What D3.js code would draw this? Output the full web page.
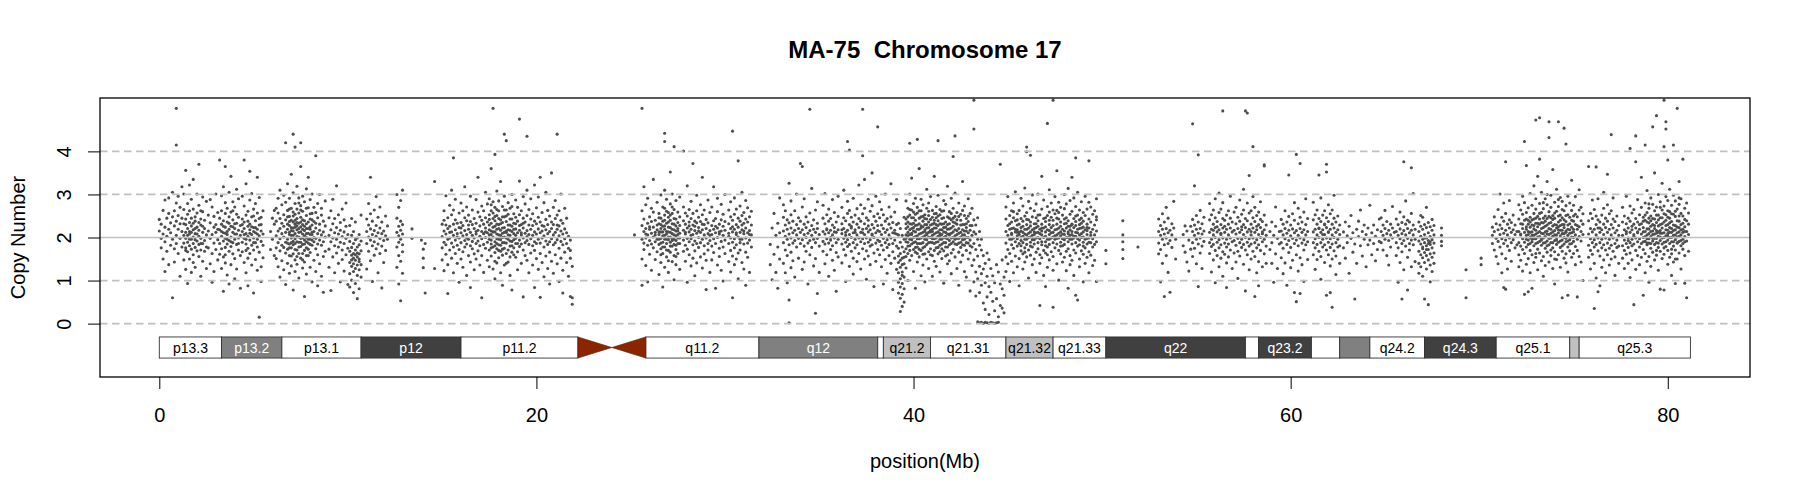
<!DOCTYPE html>
<html>
<head>
<meta charset="utf-8">
<script src="https://cdn.jsdelivr.net/npm/d3@7"></script>
<style>
  body { margin: 0; background: #fff; }
  text { font-family: "Liberation Sans", Arial, Helvetica, sans-serif; }
</style>
</head>
<body>
<div id="chart"></div>
<script>
// Chromosome 17 cytobands (Mb)
var bandNames = ["p13.3","p13.2","p13.1","p12","p11.2","p11.1","q11.1","q11.2","q12","q21.1","q21.2","q21.31","q21.32","q21.33","q22","q23.1","q23.2","q23.3","q24.1","q24.2","q24.3","q25.1","q25.2","q25.3"];
var bandStart = [0,3.3,6.5,10.7,16.0,22.2,24.0,25.8,31.8,38.1,38.4,40.9,44.9,47.4,50.2,57.6,58.3,61.1,62.6,64.2,67.1,70.9,74.8,75.3];
var bandEnd   = [3.3,6.5,10.7,16.0,22.2,24.0,25.8,31.8,38.1,38.4,40.9,44.9,47.4,50.2,57.6,58.3,61.1,62.6,64.2,67.1,70.9,74.8,75.3,81.2];
var bandStain = ["gneg","gpos50","gneg","gpos75","gneg","acen","acen","gneg","gpos50","gneg","gpos25","gneg","gpos25","gneg","gpos75","gneg","gpos75","gneg","gpos50","gneg","gpos75","gneg","gpos25","gneg"];

var xTicks = [0, 20, 40, 60, 80];
var yTicks = [0, 1, 2, 3, 4];
var dashedLevels = [0, 1, 3, 4];
var solidLevels = [2];

// probes: [position in 0.1 Mb, copy number x 100]
var p13 = [
[0,215],[0,242],[1,198],[1,231],[1,176],[2,263],[2,208],[2,150],[3,224],[3,287],[3,190],[3,121],[4,245],[4,203],[4,168],[5,256],[5,219],[5,292],[5,137],[6,234],[6,182],[6,211],[7,60],[7,248],[7,196],[7,305],[8,227],[8,174],[8,262],[8,143],[9,500],[9,415],[9,238],[9,205],[9,280],[9,186],[10,251],[10,219],[10,163],[10,296],[11,232],[11,198],[11,270],[11,110],[12,214],[12,245],[12,178],[12,318],
[13,205],[13,187],[13,232],[13,265],[13,148],[13,301],[14,212],[14,176],[14,243],[14,198],[14,126],[14,356],[15,221],[15,189],[15,254],[15,167],[15,279],[15,93],[16,208],[16,235],[16,181],[16,214],[16,150],[16,322],[16,262],[17,196],[17,227],[17,173],[17,245],[17,119],[17,289],[18,218],[18,201],[18,186],[18,266],[18,142],[18,335],[19,209],[19,238],[19,177],[19,195],[19,248],[19,131],[20,224],[20,192],[20,169],[20,257],[20,301],[21,203],[21,217],[21,184],[21,156],[21,275],[21,370],[22,229],[22,198],[22,171],[22,243],[22,110],[23,212],[23,186],[23,260],[23,145],[23,294],[24,221],[24,193],[24,168],[24,240],[25,206],[25,178],[25,284],[25,128],
[26,215],[26,176],[26,252],[27,198],[27,288],[27,139],[27,234],[28,207],[28,163],[28,271],[28,96],[29,224],[29,187],[29,249],[29,121],[30,212],[30,172],[30,301],[30,230],[31,195],[31,258],[31,148],[31,219],
[32,218],[32,186],[32,245],[32,161],[32,380],[33,203],[33,231],[33,174],[33,262],[33,128],[33,297],[34,211],[34,192],[34,239],[34,155],[34,318],[34,75],[35,224],[35,198],[35,177],[35,256],[35,141],[35,281],[35,365],[36,207],[36,236],[36,185],[36,214],[36,113],[36,268],[37,219],[37,193],[37,248],[37,168],[37,305],[37,92],[38,226],[38,201],[38,179],[38,259],[38,137],[38,342],[39,212],[39,188],[39,241],[39,162],[39,283],[40,221],[40,196],[40,232],[40,151],[40,271],[40,104],[41,208],[41,184],[41,254],[41,127],[41,312],[42,217],[42,199],[42,171],[42,247],[42,290],[43,205],[43,228],[43,158],[43,82],
[44,214],[44,189],[44,243],[44,167],[44,296],[45,221],[45,198],[45,236],[45,142],[45,273],[45,380],[46,209],[46,185],[46,252],[46,118],[46,325],[47,226],[47,203],[47,175],[47,261],[47,152],[47,88],[48,218],[48,194],[48,231],[48,163],[48,287],[48,354],[49,207],[49,182],[49,248],[49,136],[49,302],[50,223],[50,199],[50,214],[50,171],[50,266],[50,71],[51,211],[51,188],[51,239],[51,149],[51,279],[52,219],[52,196],[52,178],[52,257],[52,124],[52,340],[53,204],[53,229],[53,15],[53,166],[53,293],[54,215],[54,191],[54,247],[54,132],[54,98],[55,208],[55,182],[55,262],[55,153],
[59,214],[59,172],[60,245],[60,196],[61,158],[61,231],[61,263],
[62,204],[62,176],[62,238],[62,151],[62,268],[63,215],[63,188],[63,257],[63,132],[63,291],[64,221],[64,197],[64,169],[64,244],[64,310],[64,108],[65,209],[65,233],[65,182],[65,146],[65,276],[66,226],[66,201],[66,177],[66,253],[66,125],[66,298],[67,212],[67,189],[67,241],[67,420],[67,164],[67,282],[67,91],[68,219],[68,196],[68,231],[68,173],[68,263],[68,140],[68,325],[69,207],[69,228],[69,185],[69,249],[69,158],[69,291],[69,117],[69,212],
[70,223],[70,199],[70,240],[70,176],[70,268],[70,134],[70,347],[70,205],[71,215],[71,191],[71,236],[71,440],[71,162],[71,259],[71,304],[71,78],[71,222],[72,209],[72,231],[72,186],[72,254],[72,410],[72,148],[72,279],[72,197],[72,121],[73,218],[73,202],[73,244],[73,171],[73,266],[73,138],[73,319],[73,227],[74,212],[74,189],[74,233],[74,163],[74,257],[74,106],[74,292],[74,201],[75,225],[75,198],[75,420],[75,247],[75,179],[75,152],[75,274],[75,365],[75,213],
[76,208],[76,230],[76,184],[76,261],[76,129],[76,296],[76,219],[77,216],[77,194],[77,239],[77,170],[77,283],[77,143],[77,63],[77,204],[78,221],[78,200],[78,251],[78,176],[78,313],[78,115],[78,232],[79,210],[79,187],[79,236],[79,158],[79,269],[79,340],[79,196],[80,219],[80,196],[80,243],[80,165],[80,288],[80,131],[80,225],[81,207],[81,229],[81,182],[81,256],[81,97],[81,301],[81,212],
[82,214],[82,190],[82,237],[82,147],[82,270],[82,200],[83,222],[83,198],[83,390],[83,174],[83,258],[83,121],[83,233],[84,209],[84,185],[84,246],[84,160],[84,279],[84,88],[85,217],[85,194],[85,231],[85,139],[85,300],[86,206],[86,182],[86,252],[86,110],[86,268],[87,213],[87,190],[87,238],[87,156],[87,73],[88,201],[88,227],[88,168],[88,285],
[90,205],[90,173],[90,246],[90,131],[91,218],[91,190],[91,262],[91,77],[92,199],[92,232],[92,155],[92,289],[93,211],[93,181],[93,244],[93,118],[94,196],[94,223],[94,164],[94,320],[95,208],[95,178],[95,253],[95,140],[96,217],[96,189],[96,235],[96,97],[97,202],[97,171],[97,266],[97,149],[98,213],[98,186],[98,241],[98,122],[99,198],[99,226],[99,160],[99,280],[100,207],[100,175],[100,91],
[101,168],[101,142],[101,191],[101,116],[101,228],[101,85],[102,159],[102,177],[102,133],[102,205],[102,148],[102,101],[102,244],[103,163],[103,186],[103,139],[103,152],[103,121],[103,214],[103,72],[104,171],[104,147],[104,195],[104,128],[104,160],[104,93],[104,236],[105,155],[105,178],[105,136],[105,199],[105,112],[105,164],[105,58],[106,162],[106,144],[106,183],[106,125],[106,207],[106,81],[106,150],[107,169],[107,137],[107,192],[107,108],[107,252],
[68,187],[68,248],[69,176],[69,237],[70,188],[70,216],[71,205],[71,183],[72,224],[72,172],[73,190],[73,235],[74,221],[74,178],[75,189],[75,236],[76,199],[76,241],[76,163],[77,226],[77,185],[78,209],[78,190],[78,268],[79,221],[79,173],[80,207],[80,255],[81,194],[81,241],[69,266],[70,157],[72,240],[74,280],[76,148],[78,158],[80,184],[71,250],[73,156],[75,264],
[14,230],[15,205],[16,196],[17,212],[18,233],[19,221],[20,208],[21,235],[22,186],[23,226],[33,214],[34,226],[35,210],[36,196],[37,233],[38,190],[39,225],[40,208],[41,233],[42,186],[44,230],[45,207],[46,196],[47,238],[48,210],[49,225],[50,188],[51,223],[52,208],[53,244],[14,170],[18,160],[22,262],[35,160],[39,262],[46,170],[50,250],[54,230]
];

var p12 = [
[110,214],[110,186],[110,243],[110,127],[111,201],[111,229],[111,168],[111,279],[112,220],[112,194],[112,255],[112,146],[112,340],[113,207],[113,181],[113,238],[113,98],[114,216],[114,190],[114,264],[114,159],[115,203],[115,228],[115,174],[115,295],[116,211],[116,185],[116,247],[116,118],[117,198],[117,222],[117,163],[117,271],[118,209],[118,180],[118,236],[118,83],[119,215],[119,193],[119,142],[120,204],[120,250],[120,170],[121,196],[121,227],
[126,212],[126,178],[126,245],[126,131],[126,300],[127,204],[127,189],[127,226],[127,158],[127,92],[127,270],[128,217],[128,196],[128,238],[128,145],[128,53],[128,286],[129,208],[129,183],[129,230],[129,117],[129,310],[129,167],
[134,220],[134,198],[139,194],[140,173],[140,152],[140,130],[141,186],[141,71],[146,330],[146,128]
];

var p11 = [
[150,202],[150,231],[150,176],[150,148],[151,215],[151,189],[151,262],[151,123],[151,240],[152,208],[152,183],[152,229],[152,297],[152,161],[153,221],[153,196],[153,246],[153,137],[153,70],[154,199],[154,226],[154,171],[154,275],[154,212],[155,213],[155,187],[155,253],[155,152],[155,310],[156,205],[156,231],[156,385],[156,178],[156,118],[156,264],[157,218],[157,194],[157,241],[157,163],[157,289],[158,209],[158,182],[158,233],[158,140],[158,201],[159,223],[159,199],[159,257],[159,172],[159,96],
[160,211],[160,188],[160,235],[160,150],[160,280],[160,222],[161,204],[161,228],[161,167],[161,262],[161,131],[162,216],[162,193],[162,246],[162,178],[162,318],[163,207],[163,185],[163,239],[163,112],[163,271],[163,199],[164,219],[164,196],[164,252],[164,158],[164,229],[165,212],[165,181],[165,237],[165,143],[165,296],[165,84],[166,205],[166,230],[166,174],[166,264],[166,191],[167,221],[167,199],[167,244],[167,162],[167,125],[168,208],[168,186],[168,233],[168,288],[168,214],[168,150],[169,217],[169,192],[169,259],[169,169],[169,340],
[170,203],[170,227],[170,181],[170,136],[170,248],[171,214],[171,197],[171,240],[171,158],[171,273],[171,60],[172,209],[172,184],[172,231],[172,119],[172,262],[173,222],[173,200],[173,246],[173,175],[173,305],[173,213],[174,211],[174,189],[174,236],[174,147],[174,278],[175,218],[175,196],[175,253],[175,171],[175,132],[175,229],[175,290],[176,207],[176,233],[176,185],[176,262],[176,157],[176,360],[176,215],[177,224],[177,201],[177,500],[177,178],[177,244],[177,127],[177,283],[178,213],[178,190],[178,239],[178,165],[178,393],[178,270],[178,104],[178,226],[179,219],[179,197],[179,251],[179,174],[179,308],[179,141],[179,208],
[180,206],[180,230],[180,183],[180,262],[180,153],[180,285],[180,221],[181,217],[181,195],[181,241],[181,168],[181,118],[181,330],[181,232],[182,210],[182,188],[182,235],[182,159],[182,272],[182,200],[182,89],[183,223],[183,201],[183,248],[183,440],[183,175],[183,296],[183,136],[184,212],[184,187],[184,237],[184,163],[184,264],[184,425],[184,215],[185,218],[185,196],[185,254],[185,143],[185,281],[185,229],[186,205],[186,229],[186,180],[186,268],[186,112],[186,192],[187,214],[187,191],[187,243],[187,166],[187,300],[187,78],[188,209],[188,233],[188,176],[188,255],[189,220],[189,198],[189,247],[189,154],[189,287],[189,205],
[190,211],[190,186],[190,238],[190,167],[190,270],[190,125],[191,217],[191,194],[191,253],[191,475],[191,179],[191,331],[191,228],[192,206],[192,230],[192,185],[192,262],[192,140],[192,211],[193,222],[193,199],[193,245],[193,171],[193,295],[193,62],[193,233],[194,210],[194,188],[194,236],[194,158],[194,278],[195,216],[195,435],[195,193],[195,251],[195,147],[195,202],[195,310],[196,207],[196,184],[196,229],[196,118],[196,265],[197,219],[197,197],[197,243],[197,164],[197,290],[198,205],[198,228],[198,181],[198,136],[198,255],[199,213],[199,190],[199,238],[199,170],[199,84],[199,322],
[200,208],[200,232],[200,186],[200,151],[200,269],[201,220],[201,196],[201,247],[201,126],[201,294],[202,211],[202,187],[202,236],[202,163],[202,61],[202,340],[203,215],[203,199],[203,258],[203,142],[203,228],[204,204],[204,226],[204,178],[204,281],[204,109],[205,218],[205,192],[205,242],[205,157],[205,305],[206,209],[206,230],[206,184],[206,128],[206,263],[207,214],[207,190],[207,250],[207,166],[207,92],[208,221],[208,197],[208,236],[208,145],[208,350],[209,206],[209,230],[209,183],[209,270],[209,117],
[210,212],[210,188],[210,244],[210,160],[210,286],[211,219],[211,440],[211,195],[211,229],[211,139],[211,252],[212,204],[212,227],[212,175],[212,98],[212,262],[213,215],[213,191],[213,240],[213,152],[213,301],[214,208],[214,183],[214,233],[214,124],[214,71],[215,220],[215,197],[215,166],[215,268],[216,211],[216,186],[216,142],[216,245],[217,203],[217,175],[217,110],[218,194],[218,63],[218,152],[218,170],[219,60],[219,45],[219,133],
[175,206],[175,242],[176,194],[176,176],[177,213],[177,257],[178,181],[178,249],[179,186],[179,231],[180,196],[180,244],[181,205],[181,182],[182,222],[182,248],[183,188],[183,212],[184,199],[184,250],[185,206],[185,171],[186,217],[186,243],[187,181],[187,226],[188,195],[188,219],[189,186],[189,232],[178,145],[180,170],[182,173],[184,140],[186,155],[188,160],[176,276],[179,265],[183,264],[187,272]
];

var q11q12 = [
[252,206],
[256,500],[256,228],[256,196],[256,262],[256,150],[256,89],[257,214],[257,187],[257,243],[257,172],[257,318],[258,221],[258,199],[258,276],[258,135],[258,208],[259,206],[259,233],[259,182],[259,97],[259,291],[260,219],[260,193],[260,248],[260,161],[260,225],[261,210],[261,185],[261,237],[261,124],[261,268],[262,224],[262,201],[262,259],[262,176],[262,335],[263,212],[263,190],[263,240],[263,149],[263,206],[264,218],[264,196],[264,229],[264,167],[264,282],
[265,207],[265,232],[265,184],[265,114],[265,256],[265,213],[266,221],[266,198],[266,245],[266,174],[266,299],[266,142],[266,230],[267,213],[267,189],[267,238],[267,163],[267,271],[267,204],[267,85],[268,442],[268,423],[268,219],[268,196],[268,252],[268,178],[268,310],[268,131],[268,227],[269,208],[269,233],[269,186],[269,261],[269,155],[269,214],[269,289],[270,224],[270,201],[270,247],[270,170],[270,119],[270,236],[270,195],[271,212],[271,189],[271,240],[271,166],[271,278],[271,223],[271,352],[272,219],[272,197],[272,256],[272,144],[272,209],[272,301],[272,180],[273,411],[273,206],[273,231],[273,184],[273,265],[273,158],[273,218],[273,102],[274,215],[274,193],[274,243],[274,172],[274,286],[274,227],[274,137],[275,221],[275,199],[275,235],[275,163],[275,259],[275,207],[276,210],[276,186],[276,248],[276,126],[276,294],
[278,401],[278,217],[278,194],[278,239],[278,168],[278,271],[279,208],[279,231],[279,182],[279,145],[279,257],[279,212],[280,222],[280,198],[280,250],[280,173],[280,96],[280,320],[281,213],[281,190],[281,236],[281,160],[281,265],[281,227],[282,219],[282,197],[282,244],[282,134],[282,284],[282,205],[283,207],[283,229],[283,183],[283,256],[283,152],[283,372],[284,216],[284,192],[284,238],[284,169],[284,111],[284,226],[285,210],[285,234],[285,186],[285,262],[285,141],[285,298],[286,223],[286,200],[286,247],[286,177],[286,215],[287,212],[287,188],[287,237],[287,155],[287,276],[288,218],[288,196],[288,253],[288,129],[288,340],[288,231],[289,206],[289,230],[289,181],[289,264],[289,162],
[290,221],[290,199],[290,242],[290,147],[290,79],[291,209],[291,186],[291,234],[291,171],[291,287],[292,216],[292,193],[292,258],[292,119],[292,205],[293,207],[293,228],[293,180],[293,271],[293,148],[294,219],[294,197],[294,239],[294,165],[294,318],[295,211],[295,186],[295,244],[295,82],[295,226],[296,222],[296,200],[296,260],[296,136],[296,291],[297,208],[297,231],[297,175],[297,213],[297,156],[298,215],[298,191],[298,241],[298,124],[298,277],[299,205],[299,226],[299,178],[299,254],[299,99],[300,217],[300,194],[300,237],[300,163],[300,300],
[302,210],[302,232],[302,186],[302,264],[302,144],[302,203],[303,221],[303,199],[303,248],[303,170],[303,283],[303,120],[304,447],[304,213],[304,189],[304,240],[304,157],[304,225],[304,60],[305,219],[305,197],[305,254],[305,176],[305,292],[305,137],[306,207],[306,230],[306,183],[306,266],[306,211],[306,150],[307,224],[307,201],[307,245],[307,164],[307,378],[307,104],[308,212],[308,188],[308,238],[308,171],[308,273],[308,196],[309,218],[309,196],[309,251],[309,142],[309,229],[309,305],[310,209],[310,233],[310,185],[310,258],[310,127],[310,215],[311,222],[311,199],[311,243],[311,166],[311,286],[311,89],[312,211],[312,187],[312,236],[312,154],[312,269],[313,216],[313,194],[313,248],[313,119],[313,207],[314,206],[314,229],[314,178],[314,261],
[324,184],[324,137],[325,222],[325,102],[326,256],[326,161],[327,205],[327,119],[328,233],[328,178],[328,82],[329,211],[329,292],[329,150],
[331,215],[331,188],[331,247],[331,140],[331,276],[332,203],[332,229],[332,171],[332,118],[332,262],[333,219],[333,196],[333,241],[333,158],[333,95],[334,208],[334,326],[334,183],[334,234],[334,2],[334,55],[335,222],[335,199],[335,253],[335,166],[335,285],[335,130],[336,211],[336,187],[336,238],[336,146],
[337,217],[337,193],[337,262],[337,108],[338,206],[338,230],[338,178],[338,301],[339,221],[339,198],[339,246],[339,152],[340,212],[340,372],[340,186],[340,238],[341,218],[341,195],[341,365],[341,271],[341,126],[342,207],[342,231],[342,180],[342,290],[342,143],[343,223],[343,200],[343,248],[343,168],[344,210],[344,187],[344,236],[344,92],[345,498],[345,216],[345,193],[345,257],[345,160],[346,205],[346,228],[346,177],[346,314],[347,219],[347,196],[347,241],[347,134],
[348,212],[348,188],[348,264],[348,24],[348,151],[349,221],[349,198],[349,233],[349,70],[349,283],[350,207],[350,180],[350,119],
[352,214],[352,191],[352,245],[352,168],[352,275],[353,208],[353,232],[353,185],[353,139],[353,302],[354,220],[354,197],[354,253],[354,160],[354,218],[355,211],[355,187],[355,238],[355,110],[355,266],[356,217],[356,194],[356,244],[356,172],[356,200],[357,206],[357,229],[357,181],[357,288],[357,147],[358,223],[358,199],[358,258],[358,124],[358,213],[359,212],[359,188],[359,236],[359,165],[359,75],[360,218],[360,196],[360,249],[360,155],[360,296],
[362,209],[362,232],[362,185],[362,270],[362,141],[362,218],[363,221],[363,198],[363,246],[363,172],[363,310],[364,212],[364,189],[364,239],[364,159],[364,98],[364,205],[365,423],[365,217],[365,195],[365,256],[365,179],[365,284],[366,207],[366,230],[366,184],[366,403],[366,133],[366,263],[367,222],[367,200],[367,247],[367,168],[367,226],[368,211],[368,188],[368,236],[368,152],[368,291],[368,115],[369,218],[369,196],[369,252],[369,176],[369,212],[370,206],[370,231],[370,183],[370,267],[370,144],[371,223],[371,199],[371,244],[371,163],[371,322],[372,212],[372,190],[372,238],[372,127],[372,276],
[373,498],[373,390],[373,219],[373,197],[373,255],[373,174],[373,211],[374,207],[374,232],[374,186],[374,268],[374,150],[374,335],[375,221],[375,199],[375,246],[375,169],[375,103],[376,213],[376,189],[376,240],[376,157],[376,289],[376,227],[377,218],[377,195],[377,261],[377,180],[377,137],[378,208],[378,230],[378,183],[378,274],[378,206],[378,350],[379,222],[379,200],[379,249],[379,164],[379,86],[380,211],[380,187],[380,238],[380,145],[380,296],[381,457],[381,216],[381,194],[381,255],[381,172],[381,228],
[265,196],[265,246],[266,187],[266,213],[267,226],[267,178],[268,205],[268,240],[269,196],[269,171],[270,213],[270,258],[271,201],[271,180],[272,232],[272,193],[273,244],[273,196],[274,204],[274,182],[275,215],[275,186],[276,228],[276,199],[268,268],[270,146],[272,271],[274,156],[266,160],[271,252]
];

var q21 = [
[382,214],[382,191],[382,246],[382,160],[382,283],[383,207],[383,229],[383,182],[383,132],[383,265],[384,221],[384,198],[384,253],[384,171],[384,92],[385,212],[385,188],[385,238],[385,149],[385,301],[386,218],[386,195],[386,244],[386,177],[386,117],[387,206],[387,231],[387,184],[387,271],[387,158],[388,222],[388,199],[388,248],[388,140],[388,325],[389,211],[389,186],[389,235],[389,167],[389,79],
[390,217],[390,194],[390,259],[390,152],[390,210],[391,208],[391,230],[391,180],[391,288],[391,126],
[392,175],[392,142],[392,118],[392,96],[392,206],[392,71],[392,233],[392,157],[393,163],[393,131],[393,104],[393,85],[393,59],[393,189],[393,147],[393,28],[393,221],[394,152],[394,120],[394,93],[394,68],[394,40],[394,178],[394,137],[394,112],[394,205],[395,167],[395,139],[395,108],[395,81],[395,196],[395,154],[395,247],[395,50],
[396,221],[396,198],[396,243],[396,174],[396,285],[396,129],[396,206],[397,212],[397,189],[397,236],[397,163],[397,268],[397,225],[397,100],[398,419],[398,218],[398,196],[398,252],[398,181],[398,301],[398,147],[398,232],[399,207],[399,231],[399,185],[399,264],[399,158],[399,210],[399,338],[400,223],[400,200],[400,246],[400,172],[400,279],[400,121],[400,215],[401,213],[401,190],[401,240],[401,166],[401,291],[401,228],[401,82],[402,428],[402,219],[402,197],[402,257],[402,178],[402,204],[402,143],[402,270],[403,208],[403,232],[403,186],[403,262],[403,155],[403,219],[403,360],[404,222],[404,199],[404,248],[404,170],[404,227],[404,111],[404,289],[405,212],[405,188],[405,238],[405,161],[405,276],[405,201],[405,136],
[406,218],[406,196],[406,244],[406,179],[406,253],[406,214],[406,97],[407,207],[407,230],[407,184],[407,268],[407,150],[407,209],[407,312],[408,223],[408,201],[408,251],[408,167],[408,236],[408,128],[408,280],[409,213],[409,189],[409,242],[409,174],[409,217],[409,295],[410,219],[410,197],[410,231],[410,158],[410,263],[410,205],[410,110],[411,208],[411,233],[411,186],[411,255],[411,145],[411,222],[411,342],[412,222],[412,199],[412,246],[412,176],[412,272],[412,211],[412,133],[413,425],[413,213],[413,190],[413,239],[413,162],[413,228],[413,298],[414,218],[414,196],[414,253],[414,182],[414,204],[414,120],[414,265],[415,207],[415,231],[415,185],[415,244],[415,151],[415,218],
[416,223],[416,200],[416,262],[416,169],[416,286],[416,94],[416,213],[417,212],[417,188],[417,236],[417,157],[417,277],[417,224],[418,219],[418,197],[418,248],[418,178],[418,319],[418,139],[419,208],[419,232],[419,183],[419,260],[419,146],[419,206],[420,222],[420,199],[420,241],[420,164],[420,291],[420,116],
[421,388],[421,213],[421,190],[421,245],[421,172],[421,268],[421,226],[422,436],[422,218],[422,196],[422,234],[422,155],[422,303],[422,204],[423,207],[423,231],[423,184],[423,258],[423,128],[423,216],[424,221],[424,198],[424,249],[424,166],[424,280],[424,89],[425,212],[425,189],[425,240],[425,177],[425,229],[425,143],[426,218],[426,195],[426,263],[426,159],[426,206],[426,330],[427,206],[427,230],[427,182],[427,251],[427,121],[427,273],[428,223],[428,200],[428,244],[428,170],[428,215],[428,108],[429,211],[429,187],[429,237],[429,150],[429,290],[430,217],[430,194],[430,256],[430,164],[430,76],
[431,205],[431,228],[431,178],[431,135],[431,268],[432,519],[432,452],[432,213],[432,186],[432,241],[432,148],[432,97],[433,208],[433,172],[433,229],[433,120],[433,64],[434,196],[434,157],[434,246],[434,104],[434,4],[435,182],[435,133],[435,214],[435,72],[435,2],[436,171],[436,116],[436,89],[436,196],[436,3],[437,158],[437,127],[437,48],[437,1],[438,140],[438,95],[438,33],[438,3],[439,164],[439,110],[439,62],[439,2],[440,149],[440,86],[440,21],[440,1],[441,128],[441,73],[441,3],[442,111],[442,52],[442,2],[443,95],[443,30],[443,1],[444,137],[444,58],[444,2],[445,120],[445,16],[445,3],[446,92],[446,42],[446,370],[447,81],[447,36],[447,148],[448,66],[448,25],[448,108],
[449,214],[449,187],[449,243],[449,155],[449,121],[449,271],[450,205],[450,228],[450,172],[450,139],[450,295],[451,219],[451,196],[451,251],[451,163],[451,98],[451,232],[452,210],[452,236],[452,183],[452,262],[452,145],[452,207],[453,222],[453,199],[453,246],[453,175],[453,280],[453,118],[454,213],[454,190],[454,239],[454,157],[454,219],[454,306],[455,218],[455,197],[455,255],[455,180],[455,204],[455,132],[455,229],[456,207],[456,231],[456,186],[456,263],[456,151],[456,212],[456,88],[457,223],[457,201],[457,244],[457,169],[457,291],[457,215],[457,193],[458,212],[458,188],[458,238],[458,162],[458,273],[458,226],[458,127],[459,219],[459,196],[459,250],[459,176],[459,208],[459,315],[459,143],
[460,410],[460,206],[460,230],[460,184],[460,258],[460,219],[460,155],[460,399],[461,222],[461,200],[461,241],[461,171],[461,284],[461,210],[461,106],[462,391],[462,213],[462,189],[462,236],[462,159],[462,227],[462,268],[463,218],[463,195],[463,248],[463,178],[463,205],[463,137],[463,299],[464,207],[464,232],[464,185],[464,262],[464,150],[464,221],[465,223],[465,199],[465,246],[465,166],[465,278],[465,211],[465,119],[466,212],[466,188],[466,239],[466,174],[466,301],[466,226],[467,219],[467,197],[467,253],[467,42],[467,160],[467,209],[467,140],[468,206],[468,231],[468,183],[468,266],[468,153],[468,215],[468,342],[469,222],[469,200],[469,244],[469,170],[469,287],[469,112],
[470,213],[470,190],[470,237],[470,164],[470,225],[470,203],[470,86],[471,465],[471,218],[471,196],[471,251],[471,178],[471,272],[471,131],[472,207],[472,230],[472,184],[472,259],[472,148],[472,216],[472,311],[473,223],[473,199],[473,247],[473,167],[473,211],[473,280],[474,519],[474,212],[474,188],[474,240],[474,156],[474,228],[474,38],[474,124],[475,218],[475,196],[475,255],[475,176],[475,204],[475,295],[476,206],[476,231],[476,185],[476,263],[476,139],[476,219],[476,355],[477,222],[477,199],[477,243],[477,170],[477,282],[477,210],[477,101],[478,213],[478,189],[478,236],[478,162],[478,226],[478,270],[479,219],[479,197],[479,252],[479,181],[479,143],[479,208],
[480,207],[480,232],[480,184],[480,267],[480,154],[480,215],[480,300],[481,222],[481,200],[481,246],[481,168],[481,278],[481,123],[481,233],[482,213],[482,190],[482,239],[482,174],[482,209],[482,314],[482,82],[483,218],[483,196],[483,254],[483,158],[483,226],[483,286],[483,137],[484,207],[484,231],[484,185],[484,261],[484,147],[484,214],[484,340],[485,223],[485,199],[485,244],[485,171],[485,292],[485,203],[485,112],[486,385],[486,212],[486,188],[486,237],[486,164],[486,272],[486,228],[486,66],[487,219],[487,197],[487,252],[487,180],[487,211],[487,55],[487,305],[488,206],[488,230],[488,183],[488,264],[488,150],[488,221],[488,132],[489,222],[489,200],[489,245],[489,169],[489,283],[489,209],
[490,213],[490,189],[490,238],[490,161],[490,258],[490,224],[490,97],[491,218],[491,196],[491,251],[491,176],[491,296],[491,140],[492,207],[492,231],[492,185],[492,266],[492,154],[492,216],[493,378],[493,222],[493,199],[493,243],[493,167],[493,282],[493,118],[494,212],[494,188],[494,236],[494,159],[494,271],[494,205],[495,219],[495,197],[495,254],[495,178],[495,135],[496,206],[496,229],[496,184],[496,262],[496,147],[497,215],[497,190],[497,241],[497,98],[497,290],[497,248],
[502,170],[502,139],
[396,190],[396,232],[396,156],[397,204],[397,248],[397,180],[398,207],[398,170],[398,265],[399,221],[399,195],[399,246],[400,188],[400,233],[400,259],[401,202],[401,177],[401,254],[402,186],[402,229],[402,163],[403,197],[403,245],[403,173],[404,210],[404,186],[404,262],[405,225],[405,176],[405,249],[406,204],[406,230],[406,162],[407,195],[407,243],[407,222],[408,212],[408,188],[408,261],[409,200],[409,229],[409,160],[410,188],[410,247],[410,214],[411,197],[411,240],[411,170],[412,189],[412,230],[412,256],[413,203],[413,177],[413,250],[414,209],[414,232],[414,167],[415,196],[415,261],[415,174],[416,188],[416,232],[416,246],[417,199],[417,203],[417,178],[418,208],[418,230],[418,160],[419,220],[419,193],[419,245],[420,210],[420,186],[420,256],[421,200],[421,236],[422,185],[422,249],[423,198],[423,241],[424,210],[424,187],[425,201],[425,254],[426,230],[426,183],[427,215],[427,196],[428,232],[428,188],[429,200],[429,250],[430,228],[430,181],
[452,196],[452,221],[455,212],[455,241],[457,181],[458,203],[460,196],[460,242],[462,201],[462,180],[464,213],[464,195],[466,200],[466,252],[468,222],[468,190],[470,246],[470,181],[472,196],[472,240],[474,201],[474,264],[476,198],[476,245],[478,204],[478,180],[480,195],[480,243],[482,226],[482,200],[484,196],[484,230],[486,203],[486,250],[488,194],[488,241],[490,201],[490,180],[492,223],[492,198],[453,260],[459,166],[465,232],[471,160],[477,258],[483,205],[489,233],[493,189]
];

var q22q23 = [
[511,239],[511,206],[511,190],[511,172],[511,151],[519,178],
[530,214],[530,187],[530,243],[530,162],[531,205],[531,228],[531,172],[531,97],[532,219],[532,196],[532,255],[532,140],[533,208],[533,183],[533,236],[533,63],[534,221],[534,199],[534,270],[534,158],[535,211],[535,186],[535,245],[535,119],[536,217],[536,193],[536,73],[537,206],[537,232],[537,177],[538,222],[538,284],[539,196],[539,150],
[543,207],[543,181],[544,166],[544,227],[545,215],[545,143],[546,194],[546,122],[547,226],[547,173],
[548,464],[548,214],[548,188],[548,242],[548,156],[549,205],[549,229],[549,175],[549,320],[550,219],[550,196],[550,251],[550,139],[551,392],[551,210],[551,185],[551,236],[551,86],[552,221],[552,199],[552,263],[552,164],[553,208],[553,232],[553,180],[553,128],[554,215],[554,191],[554,247],
[557,212],[557,188],[557,241],[557,163],[557,279],[558,219],[558,196],[558,253],[558,179],[558,120],[559,206],[559,231],[559,184],[559,264],[559,148],[559,217],[560,223],[560,200],[560,246],[560,170],[560,290],[560,95],[561,213],[561,189],[561,237],[561,158],[561,225],[562,218],[562,195],[562,258],[562,176],[562,132],[562,303],[563,207],[563,230],[563,183],[563,266],[563,152],[563,210],[564,494],[564,222],[564,199],[564,244],[564,167],[564,281],[564,110],[565,212],[565,187],[565,240],[565,161],[565,226],[566,219],[566,196],[566,252],[566,178],[566,141],[566,84],[567,206],[567,231],[567,185],[567,262],[567,155],[568,222],[568,199],[568,245],[568,171],[568,296],[569,213],[569,190],[569,236],[569,128],[570,217],[570,193],[570,259],[570,164],
[571,208],[571,232],[571,182],[571,270],[571,143],[572,221],[572,198],[572,247],[572,168],[572,105],[573,212],[573,188],[573,238],[573,157],[573,287],[574,218],[574,196],[574,254],[574,177],[574,225],[575,207],[575,230],[575,184],[575,264],[575,138],[575,312],[576,494],[576,223],[576,200],[576,244],[576,171],[576,76],[577,489],[577,213],[577,189],[577,239],[577,160],[577,280],[578,219],[578,197],[578,257],[578,180],[578,125],[578,344],[579,206],[579,231],[579,185],[579,262],[579,150],[579,214],[580,411],[580,222],[580,199],[580,246],[580,168],[580,295],[581,212],[581,188],[581,237],[581,63],[581,156],[581,270],[582,218],[582,195],[582,251],[582,176],[582,118],[582,226],[583,207],[583,230],[583,183],[583,259],[583,144],[583,88],[584,223],[584,200],[584,242],[584,170],[584,283],[585,213],[585,190],[585,237],[585,132],[585,209],[586,369],[586,366],[586,218],[586,196],[586,252],[586,162],[587,205],[587,229],[587,180],[587,140],
[589,214],[589,172],[590,236],[590,140],[590,188],[591,205],[591,96],[592,226],[592,162],[592,271],[593,198],[593,128],[594,214],[594,185],
[595,215],[595,188],[595,242],[595,153],[596,206],[596,231],[596,175],[596,116],[597,221],[597,197],[597,262],[597,141],[598,210],[598,184],[598,236],[598,89],[599,345],[599,217],[599,193],[599,249],[599,165],[600,204],[600,229],[600,177],[600,130],[601,220],[601,198],[601,255],[601,147],[602,211],[602,186],[602,240],[602,72],[602,281],[603,393],[603,216],[603,194],[603,51],[603,160],[604,205],[604,232],[604,181],[604,122],[604,268],[605,372],[605,221],[605,199],[605,247],[605,70],[605,153],[606,212],[606,187],[606,236],[606,137],[607,218],[607,195],[607,259],[607,171],[607,98],[608,206],[608,230],[608,183],[608,290],[609,214],[609,190],[609,244],[609,149],
[612,213],[612,188],[612,241],[612,160],[612,282],[613,219],[613,197],[613,253],[613,176],[613,126],[614,206],[614,231],[614,184],[614,264],[614,149],[615,222],[615,200],[615,244],[615,168],[615,345],[615,221],[616,212],[616,188],[616,237],[616,156],[616,292],[616,103],[617,218],[617,196],[617,252],[617,178],[617,207],[618,207],[618,230],[618,183],[618,262],[618,142],[618,231],[619,370],[619,352],[619,223],[619,199],[619,246],[619,171],[619,66],[620,213],[620,189],[620,237],[620,160],[620,276],[620,212],[621,219],[621,197],[621,255],[621,177],[621,134],[621,72],[622,206],[622,231],[622,185],[622,264],[622,38],[622,150],[623,222],[623,200],[623,245],[623,169],[623,298],[624,212],[624,188],[624,236],[624,157],[624,114],[625,218],[625,196],[625,250],[625,178],[626,207],[626,229],[626,181],[626,140]
];

var q24q25 = [
[628,213],[628,176],[629,236],[629,152],[630,204],[630,188],[631,226],[631,117],[632,198],[632,251],[633,211],[633,166],[634,185],[634,57],[635,219],[635,140],[636,202],[636,238],[637,181],[637,264],[638,214],[638,157],[639,196],[639,229],[640,207],[640,132],[641,222],[641,183],[642,194],[642,275],[643,211],[643,160],[644,229],[644,186],[645,203],[645,146],[646,218],[646,172],[647,191],[647,243],
[648,214],[648,188],[648,246],[649,205],[649,171],[649,229],[650,221],[650,196],[650,263],[651,209],[651,158],[651,237],[652,217],[652,193],[652,136],[653,206],[653,231],[653,178],[654,222],[654,199],[654,272],[655,212],
[656,214],[656,188],[656,243],[656,158],[657,205],[657,230],[657,176],[657,96],[658,220],[658,197],[658,259],[658,142],[659,209],[659,186],[659,235],[659,167],[659,57],[660,376],[660,216],[660,193],[660,248],[660,125],[661,206],[661,231],[661,180],[661,285],[662,221],[662,198],[662,240],[662,154],[662,78],[663,211],[663,186],[663,236],[663,171],[664,362],[664,217],[664,194],[664,256],[664,132],[665,206],[665,229],[665,183],[665,302],[666,219],[666,196],[666,144],
[668,192],[668,168],[668,214],[668,140],[668,236],[668,117],[669,185],[669,203],[669,160],[669,226],[669,132],[669,251],[670,178],[670,196],[670,153],[670,219],[670,110],[670,174],[670,247],[671,188],[671,207],[671,165],[671,230],[671,142],[671,57],[671,199],[672,181],[672,199],[672,158],[672,223],[672,127],[672,270],[672,172],[673,193],[673,172],[673,211],[673,148],[673,235],[673,44],[673,186],[674,184],[674,202],[674,162],[674,225],[674,136],[674,190],[674,97],[675,176],[675,195],[675,154],[675,217],[675,121],[675,242],[676,187],[676,206],[676,164],[676,140],[676,228],
[680,222],[680,205],[680,191],[680,181],[693,125],[693,60],[701,152],[701,137],
[707,205],[707,186],[707,224],[708,214],[708,171],[708,248],[709,198],[709,232],[709,156],[710,218],[710,191],[710,265],[710,139],[711,207],[711,229],[711,178],[711,301],[712,221],[712,197],[712,247],[712,162],[712,118],[713,210],[713,186],[713,238],[713,84],[713,280],[714,376],[714,217],[714,194],[714,256],[714,151],[714,80],[715,206],[715,231],[715,180],[715,127],[716,222],[716,199],[716,241],[716,170],[716,286],[717,212],[717,188],[717,235],[717,145],[718,218],[718,195],[718,252],[719,207],[719,229],[719,176],[720,214],[720,183],
[721,214],[721,188],[721,243],[721,160],[721,276],[721,132],[722,206],[722,232],[722,180],[722,264],[722,147],[722,208],[723,221],[723,197],[723,254],[723,172],[723,296],[723,122],[723,231],[724,423],[724,212],[724,189],[724,240],[724,163],[724,281],[724,68],[725,219],[725,196],[725,258],[725,178],[725,138],[725,225],[725,367],[726,207],[726,231],[726,184],[726,269],[726,151],[726,214],[726,74],[727,224],[727,200],[727,247],[727,170],[727,302],[727,118],[727,236],[728,213],[728,190],[728,241],[728,160],[728,275],[728,205],[728,82],[729,220],[729,197],[729,256],[729,181],[729,142],[729,228],[729,320],
[730,473],[730,208],[730,233],[730,186],[730,266],[730,154],[730,217],[730,290],[731,225],[731,201],[731,249],[731,173],[731,211],[731,125],[731,342],[732,478],[732,214],[732,191],[732,243],[732,164],[732,279],[732,231],[732,382],[733,221],[733,198],[733,258],[733,182],[733,146],[733,210],[733,305],[734,209],[734,234],[734,187],[734,267],[734,156],[734,223],[734,110],[735,226],[735,202],[735,250],[735,175],[735,290],[735,135],[735,238],[736,215],[736,192],[736,244],[736,166],[736,276],[736,208],[736,330],[737,469],[737,432],[737,221],[737,198],[737,260],[737,183],[737,143],[737,233],[738,210],[738,235],[738,188],[738,270],[738,158],[738,219],[738,298],[739,227],[739,203],[739,251],[739,176],[739,128],[739,242],[739,358],
[740,216],[740,193],[740,245],[740,167],[740,282],[740,206],[740,92],[741,222],[741,199],[741,261],[741,184],[741,149],[741,229],[741,312],[742,469],[742,211],[742,236],[742,189],[742,272],[742,160],[742,218],[743,228],[743,204],[743,252],[743,177],[743,293],[743,131],[743,240],[744,217],[744,194],[744,246],[744,168],[744,284],[744,209],[744,60],[745,454],[745,223],[745,200],[745,262],[745,185],[745,152],[745,230],[746,417],[746,212],[746,237],[746,190],[746,274],[746,162],[746,215],[747,229],[747,205],[747,253],[747,178],[747,296],[747,120],[747,66],[748,218],[748,195],[748,247],[748,169],[748,280],[748,210],[749,224],[749,201],[749,263],[749,186],[749,154],[749,333],
[750,213],[750,238],[750,191],[750,275],[750,163],[750,219],[751,230],[751,206],[751,254],[751,179],[751,137],[751,295],[752,219],[752,196],[752,248],[752,170],[752,62],[752,228],[753,225],[753,202],[753,264],[753,156],[753,311],[754,214],[754,239],[754,192],[754,143],[754,270],[755,231],[755,207],[755,255],[755,100],
[758,208],[758,182],[758,239],[758,154],[758,365],[759,221],[759,197],[759,256],[759,170],[759,127],[760,213],[760,188],[760,244],[760,161],[760,287],[761,35],[761,219],[761,195],[761,265],[761,178],[761,140],[762,206],[762,230],[762,184],[762,250],[762,364],[762,106],[763,222],[763,199],[763,241],[763,169],[763,74],[763,290],[764,212],[764,188],[764,236],[764,157],[764,88],[764,222],[765,218],[765,196],[765,252],[765,176],[765,131],[766,207],[766,231],[766,183],[766,268],[766,148],[766,305],[767,223],[767,199],[767,245],[767,171],[767,118],[768,212],[768,187],[768,238],[768,160],[768,347],[768,276],[769,219],[769,196],[769,255],[769,175],[769,136],[770,439],[770,206],[770,230],[770,182],[770,262],[770,150],[771,222],[771,199],[771,243],[771,168],[771,292],[772,211],[772,186],[772,237],[772,155],[772,112],[773,217],[773,194],[773,250],[773,177],[774,205],[774,228],[774,180],[774,140],
[776,205],[776,181],[776,236],[776,152],[776,270],[777,218],[777,194],[777,250],[777,170],[777,128],[778,209],[778,186],[778,232],[778,161],[778,296],[778,214],[779,222],[779,199],[779,245],[779,177],[779,140],[779,193],[780,407],[780,212],[780,188],[780,238],[780,164],[780,273],[780,107],[781,218],[781,196],[781,257],[781,181],[781,148],[781,226],[782,207],[782,231],[782,185],[782,265],[782,44],[782,203],[783,436],[783,376],[783,222],[783,199],[783,244],[783,170],[783,126],[784,213],[784,190],[784,236],[784,158],[784,288],[784,211],[785,219],[785,197],[785,253],[785,178],[785,137],[785,230],[786,208],[786,232],[786,186],[786,270],[786,154],[786,340],[787,223],[787,200],[787,247],[787,172],[787,66],[787,213],[788,415],[788,214],[788,191],[788,240],[788,163],[788,280],[788,118],[789,220],[789,197],[789,258],[789,183],[789,145],[789,236],[789,309],
[790,209],[790,234],[790,187],[790,268],[790,156],[790,220],[790,96],[791,226],[791,202],[791,250],[791,175],[791,292],[791,133],[791,239],[792,457],[792,215],[792,192],[792,244],[792,166],[792,277],[792,207],[793,221],[793,198],[793,262],[793,184],[793,148],[793,228],[793,350],[794,483],[794,210],[794,235],[794,188],[794,271],[794,159],[794,216],[795,227],[795,203],[795,252],[795,177],[795,300],[795,124],[795,241],[796,216],[796,193],[796,246],[796,168],[796,283],[796,210],[796,80],[797,222],[797,199],[797,264],[797,185],[797,151],[797,232],[797,326],[798,519],[798,411],[798,211],[798,236],[798,189],[798,273],[798,161],[798,78],[799,469],[799,452],[799,228],[799,204],[799,253],[799,179],[799,295],[799,218],
[800,380],[800,217],[800,194],[800,247],[800,170],[800,138],[800,286],[800,209],[801,223],[801,200],[801,260],[801,186],[801,154],[801,234],[801,312],[802,212],[802,237],[802,190],[802,275],[802,162],[802,221],[802,112],[803,415],[803,229],[803,205],[803,254],[803,180],[803,298],[803,143],[804,218],[804,195],[804,249],[804,171],[804,285],[804,206],[804,93],[805,500],[805,224],[805,201],[805,266],[805,187],[805,150],[805,239],[806,213],[806,238],[806,191],[806,277],[806,164],[806,223],[806,330],[807,230],[807,206],[807,256],[807,181],[807,127],[807,290],[808,219],[808,196],[808,250],[808,173],[808,382],[808,212],[809,225],[809,202],[809,268],[809,158],[809,94],[809,242],[810,214],[810,239],[810,192],[810,60],[810,280],[811,231],[811,207],[811,257],[811,168],
[725,205],[725,243],[726,194],[726,240],[727,212],[727,186],[728,229],[728,196],[729,205],[729,243],[730,197],[730,245],[731,188],[731,233],[732,202],[732,256],[733,194],[733,235],[734,199],[734,245],[735,213],[735,188],[736,229],[736,181],[737,207],[737,249],[738,199],[738,246],[739,213],[739,188],[740,230],[740,257],[741,206],[741,194],[742,225],[742,250],[743,192],[743,217],[744,230],[744,181],[745,209],[745,241],[746,198],[746,251],[747,219],[747,192],[748,232],[748,185],[749,211],[749,240],[750,200],[750,250],[736,300],[740,150],[744,265],[730,163],[734,281],[738,171],[742,288],[746,141],
[787,190],[787,238],[788,202],[788,252],[789,206],[789,187],[790,197],[790,245],[791,214],[791,186],[792,230],[792,198],[793,208],[793,243],[794,198],[794,252],[795,213],[795,187],[796,230],[796,201],[797,210],[797,246],[798,200],[798,255],[799,190],[799,240],[800,203],[800,230],[801,212],[801,245],[802,200],[802,255],[803,216],[803,190],[804,228],[804,261],[805,211],[805,188],[806,203],[806,250],[807,218],[807,193],[808,233],[808,186],[809,214],[809,190],[790,278],[794,170],[798,176],[802,173],[806,292],[796,270],[800,262],[804,150]
];

// SVG dimensions
var svgWidth = 1800;
var svgHeight = 500;
var margin = { top: 98, right: 50, bottom: 123, left: 100 };
var width = svgWidth - margin.left - margin.right;
var height = svgHeight - margin.top - margin.bottom;

var svg = d3.select("#chart").append("svg")
  .attr("width", svgWidth)
  .attr("height", svgHeight)
  .style("background", "#fff");

var chartGroup = svg.append("g")
  .attr("transform", `translate(${margin.left}, ${margin.top})`);

// scales (R style 4% padding)
var x = d3.scaleLinear().domain([-3.145, 84.36]).range([0, width]);
var y = d3.scaleLinear().domain([-1.24, 5.24]).range([height, 0]);

// points
var probes = [].concat(p13, p12, p11, q11q12, q21, q22q23, q24q25);
chartGroup.append("g").selectAll("circle")
  .data(probes)
  .enter()
  .append("circle")
  .attr("cx", d => x(d[0] / 10))
  .attr("cy", d => y(d[1] / 100))
  .attr("r", 1.55)
  .attr("fill", "#4d4d4d");

// reference lines on top of points
chartGroup.append("g").selectAll("line")
  .data(dashedLevels)
  .enter()
  .append("line")
  .attr("x1", 0).attr("x2", width)
  .attr("y1", d => y(d)).attr("y2", d => y(d))
  .attr("stroke", "#c0c0c0")
  .attr("stroke-width", 1.7)
  .attr("stroke-dasharray", "7.5,4.5");

chartGroup.append("g").selectAll("line")
  .data(solidLevels)
  .enter()
  .append("line")
  .attr("x1", 0).attr("x2", width)
  .attr("y1", d => y(d)).attr("y2", d => y(d))
  .attr("stroke", "#c0c0c0")
  .attr("stroke-width", 1.7);

// ideogram
var stainFill = { gneg: "#ffffff", gpos25: "#c0c0c0", gpos50: "#808080", gpos75: "#404040", acen: "#8b2500" };
var bands = bandNames.map((n, i) => ({ name: n, start: bandStart[i], end: bandEnd[i], stain: bandStain[i] }));
var ideoTop = y(-0.31), ideoBottom = y(-0.80), ideoMid = (ideoTop + ideoBottom) / 2;

var ideo = chartGroup.append("g");
ideo.selectAll("rect")
  .data(bands.filter(b => b.stain != "acen"))
  .enter()
  .append("rect")
  .attr("x", d => x(d.start))
  .attr("y", ideoTop)
  .attr("width", d => x(d.end) - x(d.start))
  .attr("height", ideoBottom - ideoTop)
  .attr("fill", d => stainFill[d.stain])
  .attr("stroke", "#333")
  .attr("stroke-width", 0.9);

// centromere: two triangles meeting in the middle
ideo.selectAll("polygon")
  .data(bands.filter(b => b.stain == "acen"))
  .enter()
  .append("polygon")
  .attr("points", function(d) {
    var pArm = d.name.charAt(0) == "p";
    var base = pArm ? x(d.start) : x(d.end);
    var tip = pArm ? x(d.end) : x(d.start);
    return [[base, ideoTop], [base, ideoBottom], [tip, ideoMid]].map(p => p.join(",")).join(" ");
  })
  .attr("fill", stainFill.acen)
  .attr("stroke", "#5a1800")
  .attr("stroke-width", 0.6);

ideo.selectAll("text")
  .data(bands.filter(b => b.stain != "acen"))
  .enter()
  .append("text")
  .attr("x", d => (x(d.start) + x(d.end)) / 2)
  .attr("y", ideoMid)
  .attr("dy", "0.36em")
  .attr("text-anchor", "middle")
  .attr("font-size", "14px")
  .attr("fill", d => (d.stain == "gpos50" || d.stain == "gpos75") ? "#ffffff" : "#000000")
  .text(d => d.name)
  .each(function(d) {
    // drop labels that don't fit the band
    if (this.getComputedTextLength() > x(d.end) - x(d.start) - 1) d3.select(this).remove();
  });

// axes
var bottomAxis = d3.axisBottom(x).tickValues(xTicks).tickSize(12).tickPadding(19).tickFormat(d3.format("d"));
var leftAxis = d3.axisLeft(y).tickValues(yTicks).tickSize(12).tickFormat(d3.format("d"));

var xAxisG = chartGroup.append("g")
  .attr("transform", `translate(0, ${height})`)
  .call(bottomAxis);
xAxisG.select(".domain").remove();
xAxisG.selectAll("text").attr("font-size", "20px").attr("font-family", null).attr("fill", "#000");
xAxisG.selectAll("line").attr("stroke", "#000");

var yAxisG = chartGroup.append("g").call(leftAxis);
yAxisG.select(".domain").remove();
yAxisG.selectAll("line").attr("stroke", "#000");
yAxisG.selectAll("text")
  .attr("font-size", "20px")
  .attr("font-family", null)
  .attr("fill", "#000")
  .attr("x", null).attr("dy", null)
  .attr("text-anchor", "middle")
  .attr("transform", "translate(-29, 0) rotate(-90)");

// box
chartGroup.append("rect")
  .attr("x", 0).attr("y", 0)
  .attr("width", width).attr("height", height)
  .attr("fill", "none")
  .attr("stroke", "#000")
  .attr("stroke-width", 1.3);

// titles
svg.append("text")
  .attr("x", margin.left + width / 2)
  .attr("y", 58)
  .attr("text-anchor", "middle")
  .attr("font-size", "24px")
  .attr("font-weight", "bold")
  .style("white-space", "pre")
  .text("MA-75  Chromosome 17");

svg.append("text")
  .attr("x", margin.left + width / 2)
  .attr("y", 468)
  .attr("text-anchor", "middle")
  .attr("font-size", "20px")
  .text("position(Mb)");

svg.append("text")
  .attr("transform", `translate(25, ${margin.top + height / 2}) rotate(-90)`)
  .attr("text-anchor", "middle")
  .attr("font-size", "20px")
  .text("Copy Number");
</script>
</body>
</html>
